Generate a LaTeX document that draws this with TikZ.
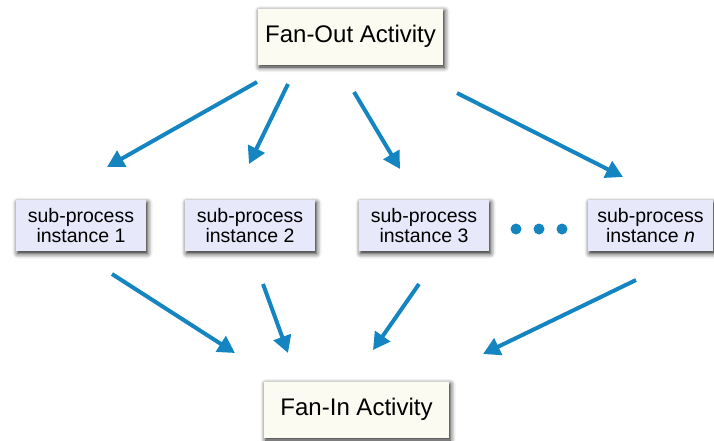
\documentclass[tikz,border=0pt]{standalone}
\usepackage{fontspec}
\setmainfont{Liberation Sans}
\usetikzlibrary{arrows.meta,shadows.blur}
\definecolor{arrowblue}{HTML}{1585C1}
\definecolor{actfill}{HTML}{FBFBF2}
\definecolor{subfill}{HTML}{E8E8FB}
\tikzset{
    activity/.style={fill=actfill,minimum width=185pt,minimum height=56pt,inner sep=0pt,
        font=\fontsize{24}{26}\selectfont,
        blur shadow={shadow xshift=1.5pt,shadow yshift=-2.5pt,shadow blur radius=5pt,shadow opacity=90}},
    subproc/.style={fill=subfill,minimum width=130pt,minimum height=51pt,inner sep=0pt,align=center,
        font=\fontsize{19.5}{20}\selectfont,
        blur shadow={shadow xshift=1.5pt,shadow yshift=-2.5pt,shadow blur radius=5pt,shadow opacity=90}},
    flow/.style={-{Triangle[length=17pt,width=18pt]},line width=4pt,arrowblue},
    dot/.style={circle,fill=arrowblue,inner sep=0pt,minimum size=11pt}
}
\begin{document}
\begin{tikzpicture}[x=1pt,y=-1pt]
    \useasboundingbox (0,0) rectangle (714,440);

    % Aktivitaeten
    \node[activity] (fanout) at (350.5,36.5) {Fan-Out Activity};
    \node[activity] (fanin) at (356.5,409.5) {Fan-In Activity};

    % Teilprozesse
    \node[subproc] (sub1) at (81,225.5) {sub-process\\instance 1};
    \node[subproc] (sub2) at (250,225.5) {sub-process\\instance 2};
    \node[subproc] (sub3) at (424,225.5) {sub-process\\instance 3};
    \node[subproc,minimum width=125pt] (subn) at (650.5,225.5) {sub-process\\instance \textit{n}};

    % Punkte
    \node[dot] (d1) at (516,229) {};
    \node[dot] (d2) at (539,229) {};
    \node[dot] (d3) at (562,229) {};

    % Verzweigung
    \coordinate (out1) at (257,82);   \coordinate (in1) at (107,167);
    \coordinate (out2) at (288,84);   \coordinate (in2) at (249,164);
    \coordinate (out3) at (354,92);   \coordinate (in3) at (400,169);
    \coordinate (out4) at (457,93);   \coordinate (in4) at (623,177);
    \foreach \i in {1,...,4}
        \draw[flow] (out\i) -- (in\i);

    % Zusammenfuehrung
    \coordinate (back1) at (112,274); \coordinate (join1) at (235,353);
    \coordinate (back2) at (263,284); \coordinate (join2) at (288,353);
    \coordinate (back3) at (419,284); \coordinate (join3) at (373,350);
    \coordinate (back4) at (636,280); \coordinate (join4) at (483,354);
    \foreach \i in {1,...,4}
        \draw[flow] (back\i) -- (join\i);
\end{tikzpicture}
\end{document}
